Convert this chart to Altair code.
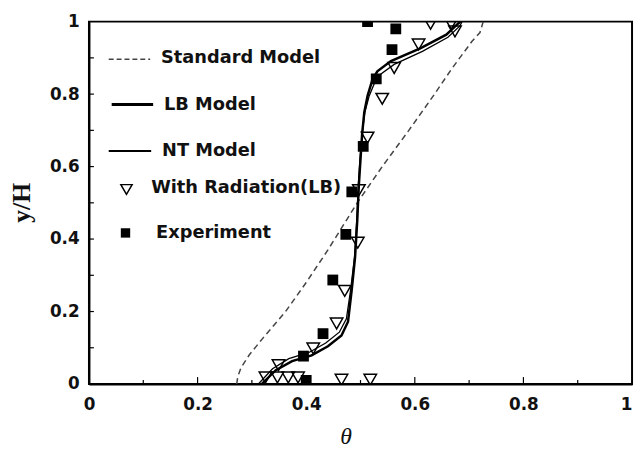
import altair as alt
import pandas as pd

# ---- data ----
std_theta = [0.272, 0.274, 0.280, 0.295, 0.320, 0.362, 0.400, 0.440, 0.494, 0.540, 0.589, 0.634, 0.668, 0.705, 0.720, 0.726]
std_y     = [0.000, 0.020, 0.045, 0.080, 0.126, 0.200, 0.280, 0.370, 0.500, 0.600, 0.700, 0.795, 0.870, 0.945, 0.970, 1.000]

lb_theta = [0.318, 0.344, 0.374, 0.410, 0.440, 0.465, 0.477, 0.484, 0.490, 0.494, 0.497, 0.500, 0.503, 0.507, 0.513, 0.522, 0.531, 0.556, 0.610, 0.658, 0.680, 0.684]
lb_y     = [0.000, 0.038, 0.063, 0.079, 0.104, 0.134, 0.172, 0.262, 0.350, 0.450, 0.550, 0.620, 0.690, 0.750, 0.795, 0.840, 0.863, 0.891, 0.926, 0.964, 0.995, 1.000]

nt_theta = [0.312, 0.338, 0.368, 0.405, 0.436, 0.461, 0.474, 0.482, 0.489, 0.493, 0.496, 0.499, 0.503, 0.508, 0.516, 0.527, 0.537, 0.562, 0.614, 0.661, 0.683, 0.687]
nt_y     = [0.000, 0.042, 0.070, 0.087, 0.113, 0.143, 0.180, 0.262, 0.350, 0.450, 0.550, 0.620, 0.690, 0.750, 0.795, 0.835, 0.855, 0.882, 0.918, 0.957, 0.988, 1.000]

rad_theta = [0.629, 0.667, 0.674, 0.607, 0.562, 0.540, 0.513, 0.497, 0.495, 0.471, 0.456, 0.413, 0.349, 0.325, 0.347, 0.367, 0.385, 0.465, 0.518]
rad_y     = [0.994, 0.994, 0.973, 0.937, 0.872, 0.787, 0.680, 0.535, 0.390, 0.257, 0.167, 0.098, 0.052, 0.018, 0.018, 0.018, 0.018, 0.012, 0.012]

exp_theta = [0.513, 0.565, 0.558, 0.529, 0.505, 0.484, 0.473, 0.449, 0.431, 0.395, 0.400]
exp_y     = [1.000, 0.980, 0.923, 0.842, 0.656, 0.530, 0.413, 0.287, 0.139, 0.077, 0.010]

axis_ticks = [0, 0.2, 0.4, 0.6, 0.8, 1]
major_inner = [0.2, 0.4, 0.6, 0.8]
minor_inner = [0.1, 0.3, 0.5, 0.7, 0.9]

series_names = ["Standard Model", "LB Model", "NT Model", "With Radiation(LB)", "Experiment"]

W, H = 550, 367
LBL_FONT = "DejaVu Sans"


def line_df(t, y):
    return pd.DataFrame({"theta": t, "y": y, "i": list(range(len(t)))})


xs = alt.Scale(domain=[0, 1], nice=False, zero=False)
ys = alt.Scale(domain=[0, 1], nice=False, zero=False)

x_axis = alt.Axis(
    values=axis_ticks, format="~g", ticks=False, tickSize=0, labelPadding=13,
    labelFlush=False,
    labelAlign=alt.condition("datum.value == 1", alt.value("right"), alt.value("center")),
    labelFont=LBL_FONT, labelFontWeight="bold", labelFontSize=17,
    labelColor="#111", domainColor="black", domainWidth=2, grid=False,
    title="θ", titleFont="Liberation Serif", titleFontStyle="italic",
    titleFontWeight="normal", titleFontSize=24, titleColor="#111",
    titleX=260, titleY=60, titleAlign="center", titleBaseline="alphabetic",
)
y_axis = alt.Axis(
    values=axis_ticks, format="~g", ticks=False, tickSize=0, labelPadding=10,
    labelFont=LBL_FONT, labelFontWeight="bold", labelFontSize=17, labelColor="#111",
    domainColor="black", domainWidth=2, grid=False,
    title="y/H", titleFont="Liberation Serif", titleFontWeight="bold",
    titleFontSize=26, titleColor="#111", titleAngle=270,
    titleX=-68, titleY=183, titleAlign="center", titleBaseline="middle",
)

X = alt.X("theta:Q", scale=xs, axis=x_axis)
Y = alt.Y("y:Q", scale=ys, axis=y_axis)

std = alt.Chart(line_df(std_theta, std_y)).mark_line(
    color="#444", strokeDash=[6, 4], strokeWidth=1.5, clip=True
).encode(x=X, y=Y, order="i:Q")

lb = alt.Chart(line_df(lb_theta, lb_y)).mark_line(
    color="black", strokeWidth=2.5, clip=True
).encode(x=X, y=Y, order="i:Q")

nt = alt.Chart(line_df(nt_theta, nt_y)).mark_line(
    color="black", strokeWidth=1.3, clip=True
).encode(x=X, y=Y, order="i:Q")

rad = alt.Chart(pd.DataFrame({"theta": rad_theta, "y": rad_y})).mark_point(
    shape="triangle-down", size=160, filled=False, stroke="black",
    strokeWidth=1.5, opacity=1, clip=True
).encode(x=X, y=Y)

exp = alt.Chart(pd.DataFrame({"theta": exp_theta, "y": exp_y})).mark_square(
    size=120, color="black", opacity=1, clip=True
).encode(x=X, y=Y)

# inward ticks
tx_major = alt.Chart(pd.DataFrame({"theta": major_inner})).mark_rule(color="black", strokeWidth=1.2).encode(
    x=X, y=alt.value(H), y2=alt.value(H - 7))
tx_minor = alt.Chart(pd.DataFrame({"theta": minor_inner})).mark_rule(color="black", strokeWidth=1.2).encode(
    x=X, y=alt.value(H), y2=alt.value(H - 4))
ty = alt.Chart(pd.DataFrame({"y": major_inner + minor_inner})).mark_rule(color="black", strokeWidth=1.2).encode(
    y=Y, x=alt.value(0), x2=alt.value(5))

# legend (drawn inside the plot, upper left)
one = pd.DataFrame({"k": [0]})
txt = dict(align="left", baseline="middle", font=LBL_FONT, fontWeight="bold", fontSize=18, color="#111")

leg = [
    alt.Chart(one).mark_rule(color="#444", strokeDash=[5, 3], strokeWidth=1.5).encode(
        x=alt.value(20), x2=alt.value(62), y=alt.value(38)),
    alt.Chart(one).mark_text(**txt).encode(x=alt.value(73), y=alt.value(37), text=alt.value(series_names[0])),
    alt.Chart(one).mark_rule(color="black", strokeWidth=3).encode(
        x=alt.value(23), x2=alt.value(65), y=alt.value(84)),
    alt.Chart(one).mark_text(**txt).encode(x=alt.value(76), y=alt.value(84), text=alt.value(series_names[1])),
    alt.Chart(one).mark_rule(color="black", strokeWidth=2).encode(
        x=alt.value(20), x2=alt.value(63), y=alt.value(131)),
    alt.Chart(one).mark_text(**txt).encode(x=alt.value(74), y=alt.value(131), text=alt.value(series_names[2])),
    alt.Chart(one).mark_point(shape="triangle-down", size=130, filled=False, stroke="black",
                              strokeWidth=1.5, opacity=1).encode(x=alt.value(38), y=alt.value(170)),
    alt.Chart(one).mark_text(**txt).encode(x=alt.value(63), y=alt.value(169), text=alt.value(series_names[3])),
    alt.Chart(one).mark_square(size=90, color="black", opacity=1).encode(x=alt.value(37), y=alt.value(214)),
    alt.Chart(one).mark_text(**txt).encode(x=alt.value(68), y=alt.value(214), text=alt.value(series_names[4])),
]

chart = alt.layer(std, lb, nt, rad, exp, tx_major, tx_minor, ty, *leg).properties(
    width=W, height=H,
    padding={"left": 82, "top": 11, "right": 3, "bottom": 62},
    autosize=alt.AutoSizeParams(type="none"),
    background="white",
).configure_view(stroke="black", strokeWidth=2)

chart.save("out.html", embed_options={"renderer": "svg", "actions": False})
